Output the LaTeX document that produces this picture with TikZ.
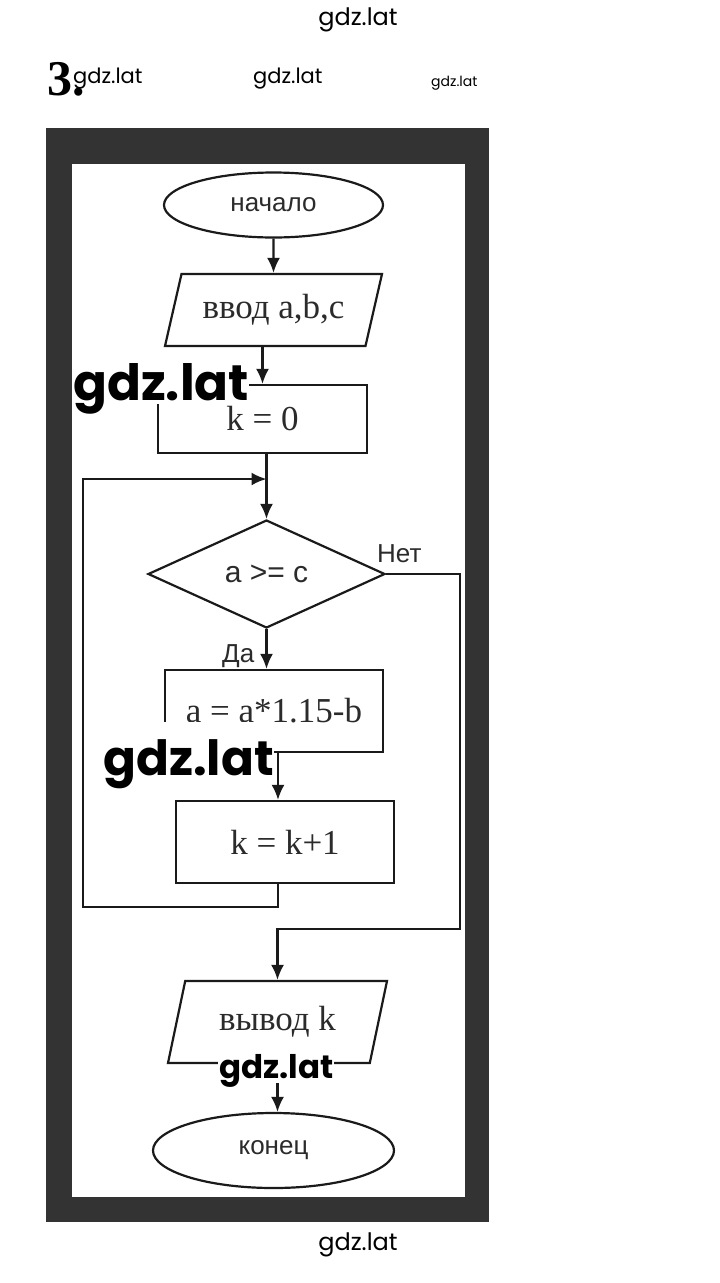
\documentclass[tikz,border=0pt]{standalone}
\usepackage{fontspec}
\setmainfont{Liberation Serif}
\newfontfamily\arialf{Liberation Sans}
\newfontfamily\wmf{Poppins}
\usetikzlibrary{shapes.geometric,arrows.meta}
\definecolor{framegray}{HTML}{333333}
\definecolor{ink}{HTML}{1A1A1A}
\definecolor{txt}{HTML}{2B2B2B}
\begin{document}
\begin{tikzpicture}[x=1pt,y=-1pt,
 line/.style={draw=ink,line width=2.2pt},
 arr/.style={line,-{Latex[length=15pt,width=13pt]}},
 term/.style={ellipse,line,inner sep=0pt,font=\arialf\fontsize{26}{26}\selectfont,text=txt},
 proc/.style={rectangle,line,inner sep=0pt,font=\fontsize{35}{35}\selectfont,text=txt},
 iobox/.style={trapezium,trapezium stretches body,line,inner sep=0pt,font=\fontsize{35}{35}\selectfont,text=txt},
 decbox/.style={diamond,line,inner sep=0pt,font=\arialf\fontsize{30}{30}\selectfont,text=txt},
 lbl/.style={font=\arialf\fontsize{26}{26}\selectfont,text=txt,inner sep=0pt},
 wm/.style={font=\wmf\fontsize{24}{24}\selectfont,inner sep=0pt,anchor=base west},
 wmbig/.style={font=\wmf\bfseries\fontsize{50}{50}\selectfont,fill=white,inner sep=0pt,anchor=base west}
]
\useasboundingbox (0,0) rectangle (720,1283);
\fill[white] (0,0) rectangle (720,1283);
% frame
\fill[framegray] (46,128) rectangle (489,1222);
\fill[white] (72,164) rectangle (465,1197);

% nodes
\node[term,minimum width=219pt,minimum height=65pt] (start) at (273.5,205) {начало};
\node[iobox,trapezium left angle=62,trapezium right angle=118,minimum width=217pt,minimum height=72pt] (in) at (273.5,310) {ввод a,b,c};
\node[proc,minimum width=209pt,minimum height=68pt] (k0) at (262.5,419) {k = 0};
\node[decbox,minimum width=237pt,minimum height=108pt] (dec) at (266.5,574) {a >= c};
\node[proc,minimum width=218pt,minimum height=82pt] (ak) at (274,711) {a = a*1.15-b};
\node[proc,minimum width=218pt,minimum height=82pt] (inc) at (285,842) {k = k+1};
\node[iobox,trapezium left angle=61,trapezium right angle=119,minimum width=219pt,minimum height=82pt] (out) at (277.5,1022) {вывод k};
\node[term,minimum width=241pt,minimum height=75pt] (end) at (273.5,1150.5) {конец};

\node[lbl,anchor=base west] (no) at (377,562) {Нет};
\node[lbl,anchor=base west] (yes) at (222,662) {Да};

% helper coordinates
\coordinate (j) at (266.5,479);
\coordinate (lb) at (83,907);
\coordinate (lt) at (83,479);
\coordinate (r1) at (460,929);

% connectors
\draw[arr] (start.south) -- (in.north);
\draw[arr] (in.south -| k0.north) -- (k0.north);
\draw[arr] (k0.south -| dec.north) -- (dec.north);
\draw[arr] (dec.south) -- (dec.south |- ak.north);
\draw[arr] ([xshift=4pt]ak.south) -- ([xshift=4pt]ak.south |- inc.north);
\draw[arr] ([xshift=-7pt]inc.south) |- (lb) -- (lt) -- (j);
\draw[arr] (dec.east) -| (r1) -| (out.north);
\draw[arr] (out.south) -- (out.south |- end.north);

% watermarks
\node[wm,anchor=base] (w0) at (358,25) {gdz.lat};
\node[font=\bfseries\fontsize{50}{50}\selectfont,inner sep=0pt,anchor=base west] (w3) at (47,95) {3.};
\node[wm,font=\wmf\fontsize{21}{21}\selectfont] (wa) at (73,83) {gdz.lat};
\node[wm,font=\wmf\fontsize{21}{21}\selectfont] (wb) at (253,83) {gdz.lat};
\node[wm,font=\wmf\fontsize{14}{14}\selectfont] (wc) at (431,86) {gdz.lat};
\node[wmbig,text depth=0pt,inner ysep=4pt] (wd) at (73,400) {gdz.lat};
\node[wmbig,font=\wmf\bfseries\fontsize{48.5}{48.5}\selectfont,text height=53pt,text depth=9pt] (we) at (103,775) {gdz.lat};
\node[wmbig,font=\wmf\bfseries\fontsize{32.5}{32.5}\selectfont,text height=28pt,text depth=5pt,inner xsep=1pt] (wf) at (218,1078) {gdz.lat};
\node[wm,anchor=base] (wg) at (358,1250) {gdz.lat};
\end{tikzpicture}
\end{document}
